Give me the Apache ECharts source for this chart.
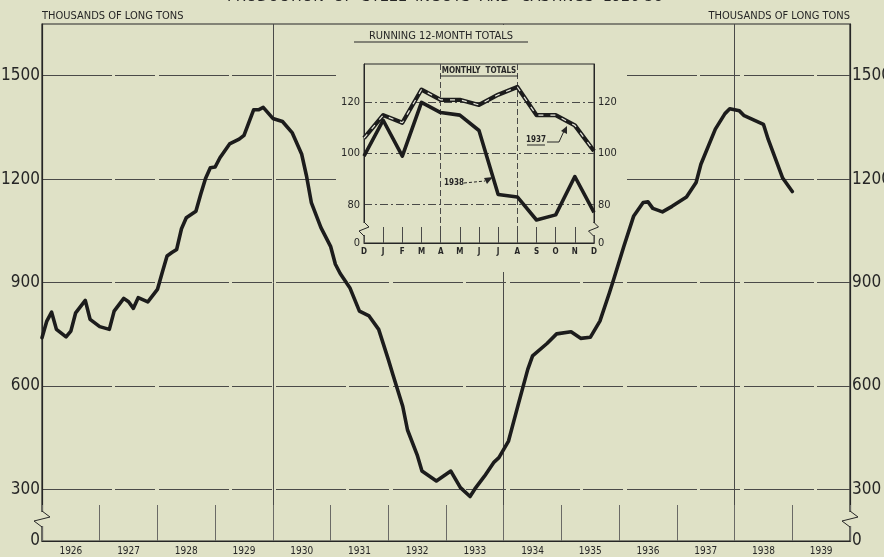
<!DOCTYPE html>
<html>
<head>
<meta charset="utf-8">
<script src="https://cdn.jsdelivr.net/npm/echarts@6/dist/echarts.min.js"></script>
<style>
  html, body { margin: 0; padding: 0; background: #dfe1c6; }
  #chart-container { width: 884px; height: 557px; }
</style>
</head>
<body>
<div id="chart-container"></div>
<script>
// running 12-month totals, thousands of long tons (month = end of 12-month period)
const months = [
  '1925-12', '1926-01', '1926-02', '1926-03', '1926-05', '1926-06', '1926-07', '1926-09', '1926-10', '1926-12',
  '1927-02', '1927-03', '1927-05', '1927-06', '1927-07', '1927-08', '1927-10', '1927-12',
  '1928-01', '1928-02', '1928-03', '1928-04', '1928-05', '1928-06', '1928-08', '1928-09', '1928-10', '1928-11', '1928-12',
  '1929-01', '1929-03', '1929-05', '1929-06', '1929-08', '1929-09', '1929-10', '1929-12',
  '1930-02', '1930-04', '1930-06', '1930-07', '1930-08', '1930-10', '1930-12',
  '1931-01', '1931-02', '1931-04', '1931-06', '1931-08', '1931-10', '1931-12',
  '1932-01', '1932-03', '1932-04', '1932-06', '1932-07', '1932-10',
  '1933-01', '1933-03', '1933-05', '1933-06', '1933-08', '1933-10', '1933-11',
  '1934-01', '1934-03', '1934-05', '1934-06', '1934-09', '1934-11',
  '1935-02', '1935-04', '1935-06', '1935-08', '1935-10', '1935-11',
  '1936-01', '1936-03', '1936-05', '1936-06', '1936-07', '1936-09', '1936-11',
  '1937-02', '1937-04', '1937-05', '1937-08', '1937-10', '1937-11',
  '1938-01', '1938-02', '1938-06', '1938-07', '1938-10', '1938-12'
];
const totals = [
  740, 788, 814, 764, 742, 759, 812, 848, 793, 772,
  764, 817, 854, 844, 825, 856, 844, 880,
  929, 977, 987, 996, 1056, 1088, 1107, 1156, 1202, 1233, 1235,
  1262, 1302, 1316, 1327, 1401, 1401, 1408, 1376,
  1367, 1335, 1272, 1209, 1132, 1059, 1005,
  953, 926, 885, 817, 803, 764, 677,
  631, 541, 472, 400, 353, 324,
  353, 305, 279, 301, 338, 379, 392,
  440, 545, 648, 687, 723, 751,
  757, 738, 741, 788, 871, 915,
  1006, 1092, 1132, 1134, 1115, 1105, 1121,
  1148, 1190, 1243, 1345, 1390, 1404,
  1398, 1384, 1359, 1315, 1203, 1164
];
const years = ['1926', '1927', '1928', '1929', '1930', '1931', '1932', '1933', '1934', '1935', '1936', '1937', '1938', '1939'];
const yTicks = [300, 600, 900, 1200, 1500];
const majorYears = [1930, 1934, 1938];

// inset: monthly totals
const insetMonths = ['D', 'J', 'F', 'M', 'A', 'M', 'J', 'J', 'A', 'S', 'O', 'N', 'D'];
const monthly1937 = [106, 115, 112, 125, 121, 121, 119, 123, 126, 115, 115, 111, 101];
const monthly1938 = [99, 113, 99, 120, 116, 115, 109, 84, 83, 74, 76, 91, 77];
const insetTicks = [80, 100, 120];

const BG = '#dfe1c6';
const INK = '#262626';
const GRID = '#4a4a48';
const FONT = "'Liberation Sans Narrow', 'DejaVu Sans Condensed', sans-serif";

// '1926-03' -> 1926.25 (end of month)
function toYear(m) {
  const [y, mo] = m.split('-').map(Number);
  return y + mo / 12;
}
const lineData = months.map((m, i) => [toYear(m), totals[i]]);

function mainLabel(v) {
  if (v === 150) return '0';
  return yTicks.includes(v) ? String(v) : '';
}
function insetLabel(v) {
  if (v === 65) return '0';
  return insetTicks.includes(v) ? String(v) : '';
}

function zigzag(x, y0) {
  return [
    { type: 'rect', z: 10, shape: { x: x - 2, y: y0 + 1, width: 4, height: 14 }, style: { fill: BG } },
    { type: 'polyline', z: 11, shape: { points: [[x, y0], [x + 8, y0 + 6], [x - 8, y0 + 10], [x, y0 + 16]] },
      style: { stroke: INK, lineWidth: 1, fill: null } }
  ];
}
function smallZigzag(x, y0) {
  return [
    { type: 'rect', z: 10, shape: { x: x - 2, y: y0 + 1, width: 4, height: 12 }, style: { fill: BG } },
    { type: 'polyline', z: 11, shape: { points: [[x, y0], [x + 5, y0 + 5], [x - 5, y0 + 9], [x, y0 + 14]] },
      style: { stroke: INK, lineWidth: 1, fill: null } }
  ];
}

const myChart = echarts.init(document.getElementById('chart-container'), null, { renderer: 'canvas' });

const option = {
  backgroundColor: BG,
  animation: false,
  grid: [
    { left: 42, right: 34, top: 24, bottom: 16, outerBoundsMode: 'none', containLabel: false,
      show: true, borderColor: INK, borderWidth: 1.2 },
    { left: 364, right: 290, top: 64, bottom: 314, outerBoundsMode: 'none', containLabel: false,
      show: true, borderColor: INK, borderWidth: 1, z: 4 }
  ],
  xAxis: [
    { type: 'value', gridIndex: 0, min: 1926, max: 1940, show: false },
    {
      type: 'category', gridIndex: 0, data: years, boundaryGap: true, position: 'bottom',
      axisLine: { show: true, lineStyle: { color: INK, width: 1.2 } },
      axisTick: { show: true, inside: true, length: 36, interval: 0, lineStyle: { color: '#6a6a66', width: 1 } },
      axisLabel: { color: INK, fontSize: 10, fontFamily: FONT, margin: 5, interval: 0 },
      splitLine: { show: false }
    },
    {
      type: 'category', gridIndex: 1, data: insetMonths, boundaryGap: false, z: 4,
      axisLine: { show: true, lineStyle: { color: INK, width: 1 } },
      axisTick: { show: true, inside: true, length: 16, interval: 0, lineStyle: { color: GRID } },
      axisLabel: { color: INK, fontSize: 8, fontFamily: FONT, fontWeight: 'bold', margin: 5, interval: 0 },
      splitLine: {
        show: true,
        interval: function (index) { return index === 4 || index === 8; },
        lineStyle: { color: GRID, width: 1, type: [6, 3] }
      }
    }
  ],
  yAxis: [
    {
      type: 'value', gridIndex: 0, min: 150, max: 1650, interval: 150, position: 'left',
      axisLine: { show: true, lineStyle: { color: INK, width: 1.2 } },
      axisTick: { show: false },
      axisLabel: { formatter: mainLabel, color: INK, fontSize: 17, fontFamily: FONT, margin: 2 },
      splitLine: { show: false }
    },
    {
      type: 'value', gridIndex: 0, min: 150, max: 1650, interval: 150, position: 'right',
      axisLine: { show: true, lineStyle: { color: INK, width: 1.2 } },
      axisTick: { show: false },
      axisLabel: { formatter: mainLabel, color: INK, fontSize: 17, fontFamily: FONT, margin: 2 },
      splitLine: { show: false }
    },
    {
      type: 'value', gridIndex: 1, min: 65, max: 135, interval: 5, position: 'left', z: 4,
      axisLine: { show: true, lineStyle: { color: INK } },
      axisTick: { show: false },
      axisLabel: { formatter: insetLabel, color: INK, fontSize: 11, fontFamily: FONT, margin: 4 },
      splitLine: { show: false }
    },
    {
      type: 'value', gridIndex: 1, min: 65, max: 135, interval: 5, position: 'right', z: 4,
      axisLine: { show: true, lineStyle: { color: INK } },
      axisTick: { show: false },
      axisLabel: { formatter: insetLabel, color: INK, fontSize: 11, fontFamily: FONT, margin: 4 },
      splitLine: { show: false }
    }
  ],
  series: [
    {
      // grid lines of the main chart, kept under the inset
      name: 'grid', type: 'line', xAxisIndex: 0, yAxisIndex: 0, z: 0,
      data: lineData, showSymbol: false, silent: true,
      lineStyle: { opacity: 0 },
      markLine: {
        z: 0, silent: true, symbol: 'none', label: { show: false },
        lineStyle: { color: GRID, width: 1, type: [70, 3, 40, 4] },
        data: yTicks.map(v => ({ yAxis: v })).concat(majorYears.map(v => ({ xAxis: v, lineStyle: { type: 'solid', width: 1 } })))
      }
    },
    {
      name: 'Running 12-month totals', type: 'line', xAxisIndex: 0, yAxisIndex: 0, z: 3,
      data: lineData, showSymbol: false,
      lineStyle: { color: '#1c1c1c', width: 3.6, join: 'round', cap: 'round' }
    },
    {
      name: 'inset grid', type: 'line', xAxisIndex: 2, yAxisIndex: 2, z: 4,
      data: monthly1938, showSymbol: false, silent: true, lineStyle: { opacity: 0 },
      markLine: {
        z: 4, silent: true, symbol: 'none', label: { show: false },
        lineStyle: { color: GRID, width: 1, type: [8, 3, 2, 3] },
        data: insetTicks.map(v => ({ yAxis: v }))
      }
    },
    {
      name: '1937', type: 'line', xAxisIndex: 2, yAxisIndex: 2, z: 5,
      data: monthly1937, showSymbol: false,
      lineStyle: { color: '#1c1c1c', width: 4.2, join: 'round' }
    },
    {
      name: '1937 dash', type: 'line', xAxisIndex: 2, yAxisIndex: 2, z: 6,
      data: monthly1937, showSymbol: false, silent: true,
      lineStyle: { color: '#e8e8dc', width: 1.2, type: [5, 7] }
    },
    {
      name: '1938', type: 'line', xAxisIndex: 2, yAxisIndex: 2, z: 5,
      data: monthly1938, showSymbol: false,
      lineStyle: { color: '#1c1c1c', width: 3.6, join: 'round' }
    }
  ],
  graphic: [
    // background of the inset, hides the main grid lines behind it
    { type: 'rect', z: 1, shape: { x: 336, y: 25, width: 288, height: 247 }, style: { fill: BG } },
    { type: 'text', z: 12, x: 445, y: 5, style: { text: 'PRODUCTION  OF  STEEL  INGOTS  AND  CASTINGS  1926-38', font: "16px " + FONT, fill: INK, align: 'center', verticalAlign: 'bottom' } },
    { type: 'text', z: 12, x: 42, y: 16, style: { text: 'THOUSANDS OF LONG TONS', font: "11px " + FONT, fill: INK, align: 'left', verticalAlign: 'middle' } },
    { type: 'text', z: 12, x: 850, y: 16, style: { text: 'THOUSANDS OF LONG TONS', font: "11px " + FONT, fill: INK, align: 'right', verticalAlign: 'middle' } },
    { type: 'text', z: 12, x: 441, y: 36, style: { text: 'RUNNING 12-MONTH TOTALS', font: "11px " + FONT, fill: INK, align: 'center', verticalAlign: 'middle' } },
    { type: 'line', z: 12, shape: { x1: 354, y1: 42, x2: 528, y2: 42 }, style: { stroke: INK, lineWidth: 1.2 } },
    { type: 'text', z: 12, x: 479, y: 71, style: { text: 'MONTHLY  TOTALS', font: "bold 8px " + FONT, fill: INK, align: 'center', verticalAlign: 'middle' } },
    { type: 'line', z: 12, shape: { x1: 440, y1: 76, x2: 518, y2: 76 }, style: { stroke: INK, lineWidth: 1 } },
    // 1937 label and arrow
    { type: 'text', z: 12, x: 536, y: 140, style: { text: '1937', font: "bold 8px " + FONT, fill: INK, align: 'center', verticalAlign: 'middle' } },
    { type: 'line', z: 12, shape: { x1: 527, y1: 145, x2: 545, y2: 145 }, style: { stroke: INK, lineWidth: 1 } },
    { type: 'polyline', z: 12, shape: { points: [[547, 142], [559, 142], [564, 131]] }, style: { stroke: INK, lineWidth: 1, fill: null } },
    { type: 'polygon', z: 12, shape: { points: [[567, 126], [567, 134], [561, 131]] }, style: { fill: INK } },
    // 1938 label and arrow
    { type: 'text', z: 12, x: 454, y: 183, style: { text: '1938', font: "bold 8px " + FONT, fill: INK, align: 'center', verticalAlign: 'middle' } },
    { type: 'line', z: 12, shape: { x1: 464, y1: 183, x2: 485, y2: 181 }, style: { stroke: INK, lineWidth: 1, lineDash: [3, 2] } },
    { type: 'polygon', z: 12, shape: { points: [[493, 177], [484, 178], [487, 184]] }, style: { fill: INK } }
  ].concat(zigzag(42, 511), zigzag(850, 511), smallZigzag(364, 222), smallZigzag(593.5, 222))
};

myChart.setOption(option);
</script>
</body>
</html>
